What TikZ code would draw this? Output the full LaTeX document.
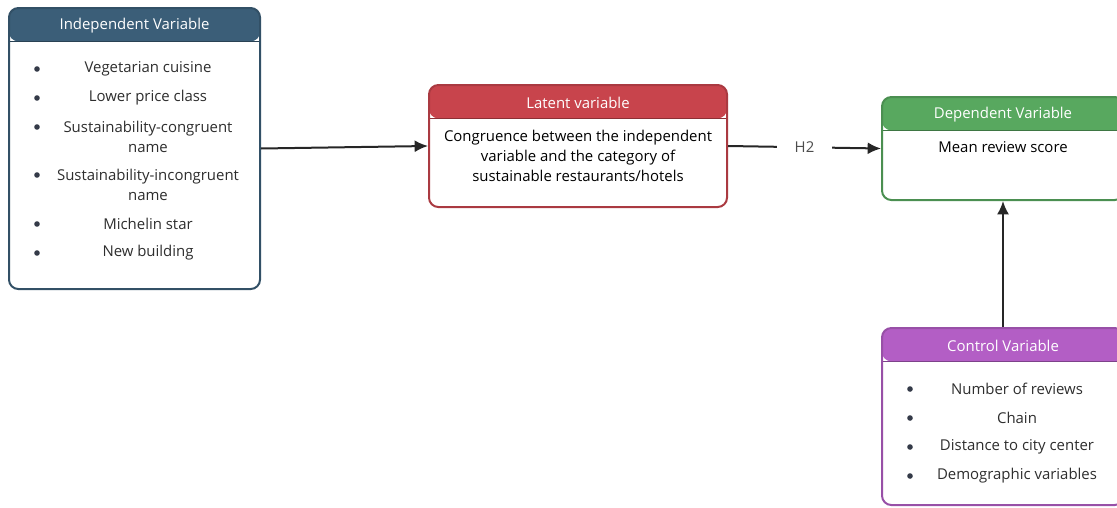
\documentclass[tikz,border=0pt]{standalone}
\usepackage{fontspec}
\setmainfont{Open Sans}
\usepackage{xcolor}
\usepackage{tikz}
\usetikzlibrary{fit,arrows.meta}

\definecolor{indepcol}{HTML}{3B5E78}
\definecolor{latentcol}{HTML}{C8444C}
\definecolor{depcol}{HTML}{58A85F}
\definecolor{ctrlcol}{HTML}{B35EC5}
\definecolor{textcol}{HTML}{2E2E2E}
\definecolor{dotcol}{HTML}{343A48}

\tikzset{
  box/.style={draw=#1!85!black, line width=1.5pt, rounded corners=7pt, inner sep=0pt, fill=white,
    path picture={
      \fill[#1] (path picture bounding box.north west) rectangle ([yshift=-25pt]path picture bounding box.north east);
      \draw[#1!70!black, line width=0.8pt] ([yshift=-25pt]path picture bounding box.north west) -- ([yshift=-25pt]path picture bounding box.north east);
    }},
  head/.style={text=white, font=\fontsize{11.2}{13}\selectfont},
  item/.style={text=textcol, font=\fontsize{11.2}{15}\selectfont, align=center},
  dot/.style={circle, fill=dotcol, inner sep=0pt, minimum size=4.2pt},
  link/.style={-{Latex[length=10pt,width=9pt]}, line width=1.5pt, black!85}
}

\begin{document}
\begin{tikzpicture}[x=0.75pt, y=-0.75pt]
  \useasboundingbox (0,0) rectangle (1117,507);
  \clip (0,0) rectangle (1117,507);

  % independent variable
  \node[box=indepcol, fit={(9,8) (260,289)}] (indep) {};
  \node[head] (indephead) at (134.5,26) {Independent Variable};
  \node[dot] (ib1) at (37,69) {};
  \node[item] (iv1) at (148,68.5) {Vegetarian cuisine};
  \node[dot] (ib2) at (37,98) {};
  \node[item] (iv2) at (148,97.5) {Lower price class};
  \node[dot] (ib3) at (37,127) {};
  \node[item] (iv3) at (148,136.5) {Sustainability-congruent\\name};
  \node[dot] (ib4) at (37,175) {};
  \node[item] (iv4) at (148,184.5) {Sustainability-incongruent\\name};
  \node[dot] (ib5) at (37,224) {};
  \node[item] (iv5) at (148,223.5) {Michelin star};
  \node[dot] (ib6) at (37,253) {};
  \node[item] (iv6) at (148,252.5) {New building};

  % latent variable
  \node[box=latentcol, fit={(429,85) (727,207)}] (latent) {};
  \node[head] (latenthead) at (578,103) {Latent variable};
  \node[item, text=black] (lv) at (578,155.5) {Congruence between the independent\\variable and the category of\\sustainable restaurants/hotels};

  % dependent variable
  \node[box=depcol, fit={(882,97) (1124,200)}] (dep) {};
  \node[head] (dephead) at (1003,115) {Dependent Variable};
  \node[item, text=black] (dv) at (1003,147.5) {Mean review score};

  % control variable
  \node[box=ctrlcol, fit={(882,328) (1124,505)}] (ctrl) {};
  \node[head] (ctrlhead) at (1003,346) {Control Variable};
  \node[dot] (cb1) at (910,389) {};
  \node[item] (cv1) at (1017,388.5) {Number of reviews};
  \node[dot] (cb2) at (910,418) {};
  \node[item] (cv2) at (1017,417.5) {Chain};
  \node[dot] (cb3) at (910,447) {};
  \node[item] (cv3) at (1017,446.5) {Distance to city center};
  \node[dot] (cb4) at (910,476) {};
  \node[item] (cv4) at (1017,475.5) {Demographic variables};

  % arrows
  \draw[link] (indep.east) -- (latent.west);
  \draw[link] (latent.east) -- node[fill=white, text=black!70, inner xsep=13pt, font=\fontsize{11.2}{13}\selectfont] (h2) {H2} (dep.west);
  \draw[link] (ctrl.north) -- (dep.south);
\end{tikzpicture}
\end{document}
